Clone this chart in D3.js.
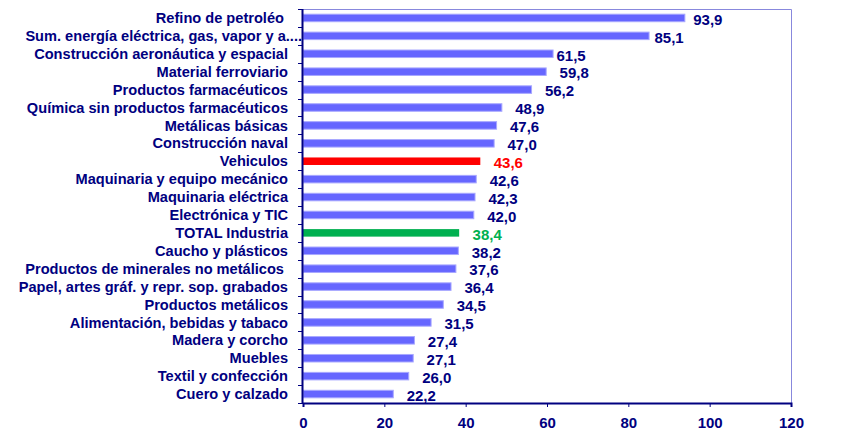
<!DOCTYPE html>
<meta charset="utf-8">
<html lang="es">
<head>
    <title>Sectores</title>
    <script src="https://cdn.jsdelivr.net/npm/d3@7"></script>
</head>
<style>
    body{ margin: 0; background: #fff; }
    svg{ display: block; }
    text{
        font-family: "Liberation Sans", Arial, sans-serif;
        font-weight: bold;
        font-size: 14.6px;
        fill: #000080;
    }
    .val{ font-size: 15px; }
</style>
<body>
<svg width="854" height="431"></svg>
<script>

    // sectores, de arriba abajo
    const categories = [
        "Refino de petroléo ",
        "Sum. energía eléctrica, gas, vapor y a....",
        "Construcción aeronáutica y espacial",
        "Material ferroviario",
        "Productos farmacéuticos",
        "Química sin productos farmacéuticos",
        "Metálicas básicas",
        "Construcción naval",
        "Vehiculos",
        "Maquinaria y equipo mecánico",
        "Maquinaria eléctrica",
        "Electrónica y TIC",
        "TOTAL Industria",
        "Caucho y plásticos",
        "Productos de minerales no metálicos ",
        "Papel, artes gráf. y repr. sop. grabados",
        "Productos metálicos",
        "Alimentación, bebidas y tabaco",
        "Madera y corcho",
        "Muebles",
        "Textil y confección",
        "Cuero y calzado"
    ]
    const values = [93.9, 85.1, 61.5, 59.8, 56.2, 48.9, 47.6, 47.0, 43.6, 42.6, 42.3,
                    42.0, 38.4, 38.2, 37.6, 36.4, 34.5, 31.5, 27.4, 27.1, 26.0, 22.2]
    const xTicks = [0, 20, 40, 60, 80, 100, 120]
    const highlight = {"Vehiculos": "#ff0000", "TOTAL Industria": "#00b050"}

    const data = categories.map((c, i) => ({cat: c, val: values[i]}))

    // layout
    const mLeft = 303, mRight = 791, mTop = 9, mBottom = 403
    const labelShift = {0: -5, 1: -8, 2: -10}

    const svg = d3.select("svg")

    const x = d3.scaleLinear().domain([0, 120]).range([mLeft, mRight])
    const y = d3.scaleBand().domain(categories).range([mTop, mBottom]).paddingInner(0.58).paddingOuter(0.29)

    // frame top / right
    svg.append("path")
        .attr("d", `M${mLeft},${mTop + 0.5}H${mRight + 0.5}V${mBottom}`)
        .attr("fill", "none")
        .attr("stroke", "#8888dd")
        .attr("stroke-width", 1)

    svg.selectAll(".bar")
        .data(data)
        .enter()
        .append("rect")
        .attr("class", "bar")
        .attr("x", x(0))
        .attr("y", d => y(d.cat))
        .attr("width", d => x(d.val) - x(0))
        .attr("height", y.bandwidth())
        .attr("fill", d => highlight[d.cat] || "#6666ff")
        .attr("stroke", d => highlight[d.cat] ? "none" : "#a8a8ff")
        .attr("stroke-width", 1)

    svg.selectAll(".val")
        .data(data)
        .enter()
        .append("text")
        .attr("class", "val")
        .attr("x", (d, i) => x(d.val) + 28 + (labelShift[i] || 0))
        .attr("y", d => y(d.cat) + y.bandwidth() / 2 + 1.5)
        .attr("dy", "0.35em")
        .attr("text-anchor", "middle")
        .style("fill", d => highlight[d.cat] || "#000080")
        .text(d => d.val.toFixed(1).replace(".", ","))

    // y axis with ticks between categories
    const yAxis = svg.append("g")
    yAxis.append("line")
        .attr("x1", mLeft - 0.5).attr("x2", mLeft - 0.5)
        .attr("y1", mTop).attr("y2", mBottom)
        .attr("stroke", "#000080").attr("stroke-width", 2)
    yAxis.selectAll(".ytick")
        .data(d3.range(categories.length + 1))
        .enter()
        .append("line")
        .attr("x1", mLeft - 5).attr("x2", mLeft)
        .attr("y1", i => Math.round(mTop + i * (mBottom - mTop) / categories.length) + 0.5)
        .attr("y2", i => Math.round(mTop + i * (mBottom - mTop) / categories.length) + 0.5)
        .attr("stroke", "#000080").attr("stroke-width", 1)

    svg.selectAll(".cat")
        .data(data)
        .enter()
        .append("text")
        .attr("class", "cat")
        .attr("x", (d, i) => i === 1 ? 302 : 288)
        .attr("y", d => y(d.cat) + y.bandwidth() / 2)
        .attr("dy", "0.35em")
        .attr("text-anchor", "end")
        .attr("xml:space", "preserve")
        .style("white-space", "pre")
        .text(d => d.cat)

    // x axis
    const xAxis = d3.axisBottom(x).tickValues(xTicks).tickSize(4).tickPadding(10).tickFormat(d3.format("d"))
    const gx = svg.append("g").attr("transform", `translate(0,${mBottom})`).call(xAxis)
    gx.select(".domain").attr("stroke", "#000080").attr("stroke-width", 2)
    gx.selectAll(".tick line").attr("stroke", "#000080")
    gx.selectAll(".tick text")
        .style("font-family", '"Liberation Sans", Arial, sans-serif')
        .style("font-weight", "bold")
        .style("font-size", "15px")
        .style("fill", "#000080")
</script>
</body>
</html>
